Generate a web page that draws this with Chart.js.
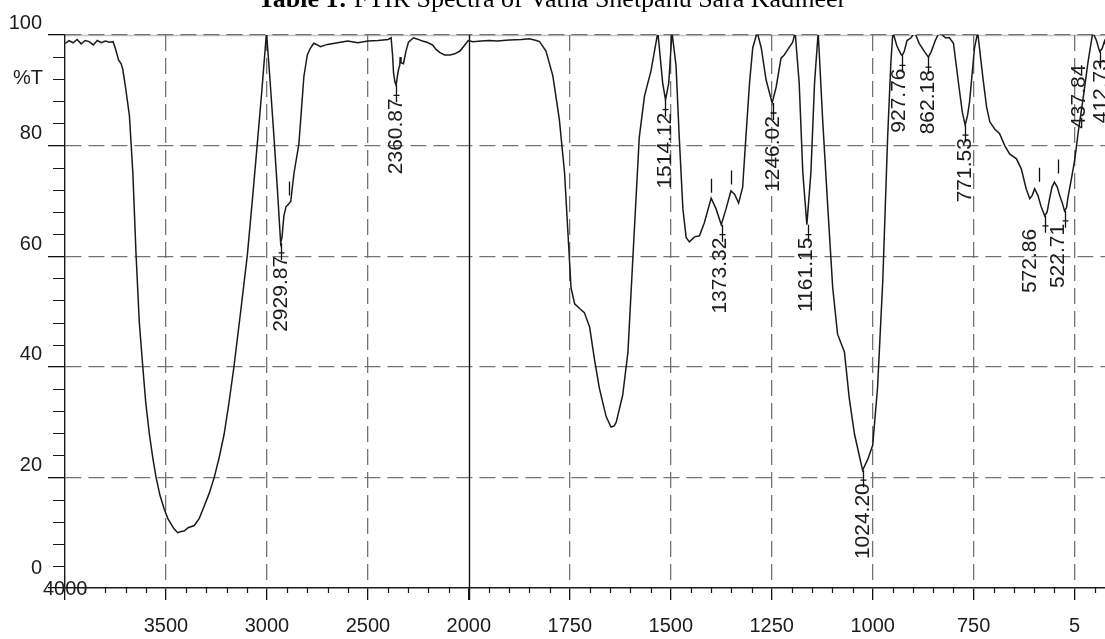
<!DOCTYPE html>
<html>
<head>
<meta charset="utf-8">
<title>FTIR Spectra</title>
<script src="https://cdn.jsdelivr.net/npm/chart.js@4.4.1/dist/chart.umd.min.js"></script>
<style>
  html, body { margin: 0; padding: 0; background: #fff; overflow: hidden; }
  #wrap { width: 1130px; height: 639px; }
  canvas { display: block; }
</style>
</head>
<body>
<div id="wrap"><canvas id="ftirChart" width="1130" height="639"></canvas></div>
<script>
// ---- data (wavenumber cm-1, %T) ----
const wavenumbers = [
  3998, 3980, 3960, 3940, 3920, 3900, 3880, 3860, 3840, 3820, 3800, 3780, 3762, 3750, 3735, 3722, 3714, 3700,
  3681, 3664, 3648, 3632, 3615, 3600, 3582, 3565, 3549, 3530, 3508, 3490, 3475, 3460, 3442, 3425, 3410, 3390,
  3360, 3335, 3311, 3285, 3261, 3237, 3212, 3188, 3163, 3130, 3097, 3070, 3048, 3025, 3002, 2985, 2965, 2948,
  2932, 2925, 2916, 2905, 2898, 2882, 2866, 2842, 2830, 2817, 2800, 2785, 2768, 2750, 2735, 2700, 2650, 2600,
  2550, 2500, 2450, 2400, 2385, 2378, 2373, 2366, 2360, 2354, 2348, 2342, 2340, 2336, 2324, 2312, 2299, 2274,
  2250, 2230, 2208, 2180, 2160, 2143, 2120, 2093, 2070, 2044, 2020, 2003,
  1990, 1970, 1950, 1930, 1900, 1870, 1850, 1833, 1825, 1809, 1792, 1776, 1763, 1755, 1747, 1738, 1725, 1714,
  1701, 1689, 1677, 1660, 1648, 1640, 1635, 1619, 1606, 1594, 1578, 1565, 1549, 1532, 1520, 1513, 1505, 1497,
  1487, 1479, 1470, 1462, 1454, 1441, 1429, 1417, 1400, 1388, 1375, 1363, 1351, 1342, 1332, 1322, 1314, 1305,
  1297, 1286, 1276, 1264, 1249, 1239, 1227, 1219, 1210, 1198, 1192, 1182, 1173, 1163, 1153, 1144, 1135, 1124,
  1111, 1099, 1087, 1070, 1058, 1045, 1025, 1012, 1000, 988, 975, 963, 955, 950, 940, 930, 927, 922, 915, 905,
  896, 885, 870, 862, 855, 845, 835, 820, 810, 800, 787, 778, 771, 765, 760, 748, 740, 727, 718, 710, 698, 686,
  673, 661, 644, 632, 620, 611, 605, 599, 591, 583, 574, 568, 562, 556, 550, 543, 537, 530, 525, 520, 517, 508,
  500, 490, 479, 467, 455, 446, 438, 432, 426, 418, 413, 400
];
const transmittance = [
  98.5, 99.0, 98.6, 99.2, 98.4, 99.0, 98.8, 98.2, 99.0, 98.6, 98.9, 98.7, 98.8, 97.5, 95.5, 94.8, 93.8, 90.5,
  85.4, 75.1, 60.2, 48.0, 40.1, 33.5, 27.8, 23.5, 20.0, 16.8, 14.2, 12.5, 11.6, 10.7, 10.0, 10.2, 10.3, 10.9,
  11.3, 12.6, 14.8, 17.2, 20.0, 23.5, 27.8, 33.5, 40.1, 50.0, 60.2, 71.0, 80.2, 90.0, 100.5, 92.0, 81.5, 72.0,
  62.4, 63.5, 67.3, 69.0, 69.2, 69.9, 75.0, 80.2, 86.0, 92.5, 96.4, 97.6, 98.5, 98.2, 97.9, 98.3, 98.6, 98.9,
  98.6, 98.9, 99.0, 99.2, 99.5, 96.5, 93.2, 91.5, 90.9, 92.5, 93.8, 94.5, 96.0, 95.0, 94.8, 97.0, 98.7, 99.5,
  99.2, 98.9, 98.7, 98.2, 97.3, 96.8, 96.4, 96.4, 96.6, 97.1, 98.2, 99.0,
  98.8, 98.9, 99.0, 98.9, 99.1, 99.2, 99.3, 99.0, 98.8, 97.1, 92.6, 84.8, 75.1, 64.7, 54.3, 51.4, 50.5, 49.8,
  47.2, 41.4, 36.2, 31.0, 29.1, 29.3, 30.0, 34.9, 42.7, 59.5, 81.5, 89.0, 93.5, 100.5, 91.3, 88.3, 91.3, 100.5,
  94.5, 81.5, 68.6, 63.4, 62.6, 63.5, 63.7, 66.0, 70.5, 68.6, 65.7, 68.6, 71.8, 71.2, 69.6, 72.5, 81.5, 91.3,
  97.7, 100.5, 97.7, 91.9, 87.7, 90.6, 95.8, 96.4, 97.4, 98.7, 100.5, 91.3, 75.1, 65.7, 75.1, 91.3, 100.5, 84.8,
  68.6, 54.3, 45.9, 42.7, 34.3, 27.8, 21.3, 23.3, 25.8, 36.2, 55.6, 81.5, 95.0, 100.5, 98.0, 96.5, 96.3, 97.0, 99.0, 99.5,
  100.5, 98.5, 96.8, 96.0, 97.0, 99.0, 100.5, 99.5, 99.5, 98.5, 91.0, 86.0, 83.7, 85.5, 88.0, 97.6, 100.5, 92.2, 87.0, 84.3, 83.0, 82.2,
  80.0, 78.5, 77.6, 75.8, 72.2, 70.4, 71.0, 72.2, 71.0, 69.0, 67.3, 68.0, 70.4, 72.5, 73.4, 72.5, 71.0, 69.5, 68.2, 68.8, 70.4, 74.0,
  77.3, 83.0, 88.5, 95.0, 100.5, 99.0, 97.0, 97.5, 98.9, 97.0, 95.0, 99.0
];

// axis ticks (wavenumber) and their printed labels
const tickWn = [4000, 3500, 3000, 2500, 2000, 1750, 1500, 1250, 1000, 750, 500];
const tickLabels = ['4000', '3500', '3000', '2500', '2000', '1750', '1500', '1250', '1000', '750', '5'];

// picked peaks: wavenumber, %T at the label anchor
const peakWn = [2929.87, 2360.87, 1514.12, 1373.32, 1246.02, 1161.15, 1024.20, 927.76, 862.18, 771.53, 572.86, 522.71, 437.84, 412.73];
const peakT = [62.4, 90.9, 88.3, 65.7, 87.7, 65.7, 21.3, 96.3, 96.0, 83.7, 67.3, 68.2, 97.0, 98.0];
const peakText = ['2929.87', '2360.87', '1514.12', '1373.32', '1246.02', '1161.15', '1024.20', '927.76', '862.18', '771.53', '572.86', '522.71', '437.84', '412.73'];

// small unlabeled peak markers: wavenumber, %T at the marker top
const markWn = [2891, 1400, 1352, 588, 540];
const markT = [73.5, 74.0, 75.5, 76.0, 77.5];

// the x axis is split: 4000-2000 at 500 per unit, 2000-400 at 250 per unit
function toAxis(wn) {
  return wn >= 2000 ? (4000 - wn) / 500 : 4 + (2000 - wn) / 250;
}

const FONT = "'Liberation Sans', Arial, sans-serif";
const SERIF = "'Liberation Serif', 'Times New Roman', serif";
const GRID_GRAY = '#737373';

const ftirDecor = {
  id: 'ftirDecor',
  beforeDraw(chart) {
    const { ctx, chartArea: a } = chart;
    ctx.save();
    ctx.strokeStyle = '#c4c4c4';
    ctx.lineWidth = 1.5;
    ctx.beginPath();
    ctx.moveTo(a.left, a.top + 0.5);
    ctx.lineTo(a.right, a.top + 0.5);
    ctx.stroke();
    ctx.restore();
  },
  afterDraw(chart) {
    const { ctx, chartArea: a, scales: { x, y } } = chart;
    ctx.save();

    // title (cut off by the top edge in the reference)
    ctx.fillStyle = '#000';
    ctx.textBaseline = 'alphabetic';
    const boldPart = 'Table 1: ';
    const restPart = 'FTIR Spectra of Vatha Shetpahu Sara Kadineer';
    ctx.font = 'bold 26px ' + SERIF;
    const wb = ctx.measureText(boldPart).width;
    ctx.font = '26px ' + SERIF;
    const wr = ctx.measureText(restPart).width;
    const tx = 552 - (wb + wr) / 2;
    ctx.font = 'bold 26px ' + SERIF;
    ctx.fillText(boldPart, tx, 6.5);
    ctx.font = '26px ' + SERIF;
    ctx.fillText(restPart, tx + wb, 6.5);

    // minor ticks
    ctx.strokeStyle = '#1a1a1a';
    ctx.lineWidth = 1.2;
    ctx.beginPath();
    for (let i = 1; i < 52; i++) {
      if (i % 5 === 0) continue;
      const px = Math.round(x.getPixelForValue(i / 5)) + 0.5;
      ctx.moveTo(px, a.bottom);
      ctx.lineTo(px, a.bottom + 5);
    }
    for (let t = 4; t < 100; t += 4) {
      if (t % 20 === 0) continue;
      const py = Math.round(y.getPixelForValue(t)) + 0.5;
      ctx.moveTo(a.left - 12, py);
      ctx.lineTo(a.left, py);
    }
    ctx.stroke();

    // solid break line at 2000
    const xb = Math.round(x.getPixelForValue(toAxis(2000))) + 0.5;
    ctx.strokeStyle = '#111';
    ctx.lineWidth = 1.4;
    ctx.beginPath();
    ctx.moveTo(xb, a.top);
    ctx.lineTo(xb, a.bottom + 12);
    ctx.stroke();

    // "4000", "0" and "%T" sit where the crowded corner pushed them
    ctx.fillStyle = '#1c1c1c';
    ctx.font = '20px ' + FONT;
    ctx.textBaseline = 'middle';
    ctx.textAlign = 'left';
    ctx.fillText(tickLabels[0], a.left - 22, a.bottom + 1);
    ctx.textAlign = 'right';
    ctx.fillText('0', a.left - 23, y.getPixelForValue(0) - 20);
    ctx.fillText('%T', a.left - 22, y.getPixelForValue(92) - 1);

    // unlabeled peak markers
    ctx.strokeStyle = '#111';
    ctx.lineWidth = 1.3;
    ctx.beginPath();
    markWn.forEach((w, i) => {
      const px = Math.round(x.getPixelForValue(toAxis(w))) + 0.5;
      const py = y.getPixelForValue(markT[i]);
      ctx.moveTo(px, py);
      ctx.lineTo(px, py + 14);
    });
    ctx.stroke();

    // labeled peaks
    const labelShift = [0, 0, 0, -2, 0, -2, 0, -3, 0, 0, -15, -7, -21, -9];
    ctx.font = '21px ' + FONT;
    ctx.textAlign = 'right';
    ctx.textBaseline = 'middle';
    peakWn.forEach((w, i) => {
      const px = Math.round(x.getPixelForValue(toAxis(w))) + 0.5;
      const py = y.getPixelForValue(peakT[i]);
      ctx.beginPath();
      ctx.moveTo(px, py);
      ctx.lineTo(px, py + 17);
      ctx.moveTo(px - 3, py + 10);
      ctx.lineTo(px + 3, py + 10);
      ctx.stroke();
      ctx.save();
      ctx.translate(px + labelShift[i], py + 13);
      ctx.rotate(-Math.PI / 2);
      ctx.fillText(peakText[i], 0, 0);
      ctx.restore();
    });

    ctx.restore();
  }
};

const points = wavenumbers.map((w, i) => ({ x: toAxis(w), y: transmittance[i] }));
const tickAxisVals = tickWn.map(toAxis);

new Chart(document.getElementById('ftirChart'), {
  type: 'line',
  data: {
    datasets: [{
      label: '%T',
      data: points,
      borderColor: '#1a1a1a',
      borderWidth: 1.5,
      pointRadius: 0,
      tension: 0,
      fill: false
    }]
  },
  options: {
    responsive: false,
    animation: false,
    devicePixelRatio: 1,
    layout: { padding: { top: 35, right: 15, left: 0, bottom: 0 } },
    plugins: { legend: { display: false }, tooltip: { enabled: false }, title: { display: false } },
    scales: {
      x: {
        type: 'linear',
        min: 0,
        max: toAxis(400),
        afterFit: (s) => { s.height = 51; },
        afterBuildTicks: (s) => { s.ticks = tickAxisVals.map(v => ({ value: v })); },
        ticks: {
          autoSkip: false,
          maxRotation: 0,
          padding: 14,
          color: '#1c1c1c',
          font: { family: FONT, size: 20 },
          callback: (value) => {
            const i = tickAxisVals.findIndex(v => Math.abs(v - value) < 1e-6);
            return i > 0 ? tickLabels[i] : '';
          }
        },
        grid: {
          color: (c) => (c.tick && (c.tick.value === 0 || c.tick.value === 4)) ? 'rgba(0,0,0,0)' : GRID_GRAY,
          lineWidth: 1.3,
          tickLength: 12,
          tickColor: '#111',
          tickWidth: 1.3
        },
        border: { display: true, color: '#1a1a1a', width: 1.4, dash: [16, 7] }
      },
      y: {
        min: 0,
        max: 100,
        afterFit: (s) => { s.width = 65; },
        ticks: {
          stepSize: 20,
          padding: 6,
          labelOffset: -12,
          color: '#1c1c1c',
          font: { family: FONT, size: 20 },
          callback: (value) => (value === 0 ? '' : String(value))
        },
        grid: {
          color: (c) => (c.tick && c.tick.value === 0) ? 'rgba(0,0,0,0)' : GRID_GRAY,
          lineWidth: 1.3,
          tickLength: 17,
          tickColor: '#111',
          tickWidth: 1.3
        },
        border: { display: true, color: '#1a1a1a', width: 1.4, dash: [16, 7] }
      }
    }
  },
  plugins: [ftirDecor]
});
</script>
</body>
</html>
